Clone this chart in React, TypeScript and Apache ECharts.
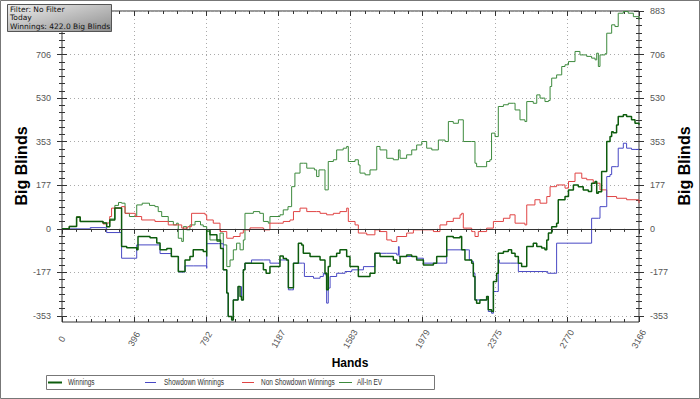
import React, { useEffect, useRef } from "react";
import * as echarts from "echarts";

// [hand, big blinds]
const winnings: [number, number][] = [
  [0, 0], [40, 10], [80, 47], [100, 30], [150, 30], [225, 24], [245, 9], [262, 36], [290, 85], [327, 85],
  [327, -72], [355, -77], [410, -85], [417, -31], [483, -36], [520, -57], [538, -85], [575, -80], [600, -112],
  [638, -173], [666, -173], [675, -126], [702, -112], [720, -85], [775, -92], [794, -112], [794, -4], [812, -24],
  [850, -45], [870, -80], [885, -166], [904, -260], [912, -355], [931, -369], [940, -288], [955, -288], [966, -234],
  [977, -274], [985, -288], [995, -166], [1004, -139], [1068, -139], [1105, -166], [1120, -180], [1141, -153],
  [1196, -110], [1214, -120], [1232, -126], [1242, -239], [1260, -239], [1270, -139], [1297, -58], [1315, -65],
  [1324, -99], [1361, -112], [1416, -126], [1434, -126], [1443, -180], [1452, -247], [1461, -153], [1471, -112],
  [1507, -99], [1525, -85], [1553, -85], [1562, -112], [1580, -153], [1608, -153], [1626, -193], [1672, -193],
  [1690, -180], [1717, -99], [1745, -112], [1782, -112], [1818, -126], [1837, -139], [1855, -112], [1891, -106],
  [1919, -112], [1946, -126], [1983, -146], [2038, -139], [2056, -112], [2092, -112], [2111, -31], [2147, -36],
  [2184, -31], [2193, -85], [2211, -126], [2248, -139], [2257, -193], [2266, -288], [2275, -301], [2293, -288],
  [2330, -274], [2339, -328], [2357, -335], [2367, -213], [2376, -213], [2385, -180], [2394, -99], [2422, -92],
  [2449, -85], [2467, -99], [2486, -112], [2504, -139], [2522, -153], [2540, -153], [2550, -72], [2586, -58],
  [2605, -72], [2632, -78], [2650, -85], [2660, -45], [2669, -17], [2687, 9], [2714, 23], [2723, 118], [2760, 131],
  [2779, 158], [2806, 178], [2833, 171], [2860, 158], [2888, 151], [2906, 185], [2925, 192], [2934, 144],
  [2943, 150], [2961, 232], [2980, 232], [2989, 354], [3007, 374], [3016, 394], [3025, 390], [3043, 421],
  [3052, 455], [3080, 462], [3098, 455], [3125, 442], [3144, 428], [3166, 422],
];

const showdown: [number, number][] = [
  [0, 0], [150, 0], [155, 5], [240, 5], [245, -15], [327, -15], [327, -119], [410, -119], [410, -65], [538, -65],
  [538, -100], [600, -112], [640, -175], [666, -175], [675, -150], [720, -150], [794, -160], [794, -60], [860, -60],
  [885, -166], [904, -260], [912, -355], [931, -369], [940, -288], [966, -234], [985, -288], [995, -166],
  [1004, -139], [1040, -126], [1105, -126], [1141, -139], [1196, -126], [1232, -126], [1242, -247], [1260, -247],
  [1270, -139], [1320, -139], [1330, -193], [1380, -200], [1416, -193], [1434, -180], [1443, -186], [1452, -301],
  [1461, -240], [1471, -193], [1507, -180], [1553, -173], [1590, -166], [1654, -153], [1690, -153], [1717, -99],
  [1782, -99], [1837, -106], [1846, -72], [1850, -112], [1946, -119], [1983, -139], [2038, -139], [2092, -139],
  [2111, -85], [2230, -85], [2235, -126], [2248, -132], [2257, -180], [2266, -288], [2293, -288], [2330, -274],
  [2339, -335], [2357, -342], [2367, -254], [2385, -254], [2394, -126], [2400, -139], [2459, -139], [2495, -139],
  [2504, -173], [2660, -173], [2665, -180], [2710, -180], [2714, -58], [2897, -58], [2906, 43], [2943, 43],
  [2952, 90], [2980, 90], [2989, 212], [3007, 220], [3016, 252], [3043, 252], [3052, 327], [3080, 347],
  [3098, 327], [3125, 322], [3166, 320],
];

const nonShowdown: [number, number][] = [
  [0, 0], [40, 10], [80, 47], [100, 30], [150, 30], [225, 20], [245, 24], [262, 50], [272, 84], [327, 90],
  [346, 63], [402, 50], [437, 36], [510, 30], [583, 16], [657, 3], [690, 9], [711, 63], [785, 57], [794, 36],
  [830, 23], [867, -11], [904, -38], [940, -31], [977, -17], [995, -4], [1032, 4], [1105, -4], [1132, -4],
  [1141, 23], [1214, 30], [1251, 36], [1270, 70], [1306, 84], [1343, 70], [1397, 70], [1416, 63], [1452, 57],
  [1489, 63], [1525, 70], [1562, 84], [1571, 30], [1608, 16], [1626, -17], [1672, -24], [1717, -4], [1745, -11],
  [1782, -45], [1809, -51], [1837, -31], [1891, -17], [1928, -4], [2010, -4], [2038, -11], [2074, 16], [2111, 30],
  [2147, 43], [2184, 57], [2193, 63], [2202, 3], [2248, -11], [2257, -11], [2266, -31], [2284, -11], [2330, 3],
  [2367, 30], [2422, 43], [2458, 57], [2486, 23], [2540, 16], [2550, 97], [2595, 118], [2623, 104], [2660, 131],
  [2678, 171], [2714, 178], [2760, 165], [2779, 192], [2815, 226], [2852, 205], [2879, 199], [2915, 185],
  [2952, 158], [2989, 131], [3043, 124], [3098, 118], [3166, 104],
];

const allInEv: [number, number][] = [
  [0, 0], [40, 10], [80, 50], [100, 30], [150, 30], [225, 24], [245, 9], [262, 40], [290, 95], [310, 107],
  [327, 104], [346, 63], [370, 50], [400, 50], [410, 97], [440, 104], [480, 95], [510, 90], [528, 70], [547, 50],
  [583, 30], [611, 16], [629, 23], [638, -38], [657, -51], [666, 9], [684, -4], [702, 16], [730, 30], [760, 16],
  [775, 9], [794, -11], [812, -45], [850, -51], [867, -17], [885, -65], [904, -153], [922, -126], [940, -85],
  [958, -58], [977, -85], [995, -45], [1004, 63], [1050, 70], [1085, 63], [1105, 30], [1132, 23], [1141, 50],
  [1196, 57], [1214, 77], [1240, 90], [1260, 171], [1278, 226], [1306, 266], [1325, 266], [1343, 246],
  [1385, 239], [1397, 212], [1410, 239], [1434, 239], [1443, 158], [1455, 158], [1461, 273], [1489, 280],
  [1507, 320], [1543, 327], [1562, 334], [1571, 273], [1608, 280], [1626, 259], [1635, 226], [1663, 219],
  [1690, 239], [1717, 239], [1727, 334], [1745, 320], [1782, 286], [1818, 280], [1846, 320], [1855, 286],
  [1891, 300], [1919, 320], [1946, 340], [1974, 354], [2001, 327], [2029, 320], [2065, 360], [2102, 354],
  [2120, 435], [2147, 428], [2175, 442], [2184, 442], [2202, 354], [2248, 354], [2266, 266], [2275, 252],
  [2330, 273], [2348, 280], [2357, 388], [2376, 374], [2394, 496], [2422, 503], [2449, 509], [2477, 509],
  [2486, 482], [2513, 442], [2540, 435], [2550, 516], [2586, 509], [2605, 543], [2623, 530], [2650, 516],
  [2669, 520], [2678, 577], [2687, 611], [2714, 624], [2742, 658], [2760, 665], [2779, 678], [2815, 719],
  [2842, 705], [2879, 699], [2906, 692], [2925, 685], [2934, 712], [2943, 658], [2952, 705], [2980, 710],
  [2989, 793], [3016, 827], [3034, 820], [3052, 874], [3080, 881], [3107, 874], [3135, 860], [3166, 847],
];

const seriesNames = ["Winnings", "Showdown Winnings", "Non Showdown Winnings", "All-In EV"];
const infoLines = ["Filter: No Filter", "Today", "Winnings: 422.0 Big Blinds"];
const xMax = 3166;
const xInterval = 395.75;
const yMax = 883;
const yInterval = 176.6;
const yTickMin = -353.2;
const yDataMin = -377.5;

const C_WIN = "#0d5c0d";
const C_SD = "#4848c4";
const C_NSD = "#e04444";
const C_EV = "#3d8a3d";

export default function App() {
  const ref = useRef<HTMLDivElement>(null);
  useEffect(() => {
    document.body.style.margin = "0";
    const chart = echarts.init(ref.current!, null, { renderer: "svg" });
    const gridData = { left: 62, right: 61, top: 11, bottom: 77, outerBoundsMode: "none", containLabel: false };
    const gridTicks = { left: 62, right: 61, top: 11, bottom: 83, outerBoundsMode: "none", containLabel: false };
    const labelFont = { color: "#555", fontSize: 9, fontFamily: "Arial, 'Liberation Sans', sans-serif" };
    const xBase = { type: "value", min: 0, max: xMax, interval: xInterval };
    const yBase = { type: "value", min: yTickMin, max: yMax, interval: yInterval };
    const tickStyle = { color: "#333", width: 1 };
    const hiddenX = (g: number) => ({ type: "value", gridIndex: g, min: 0, max: 1, show: false });
    const hiddenY = (g: number) => ({ type: "value", gridIndex: g, min: 0, max: 1, show: false });
    const fmt = (v: number) => String(Math.round(v));

    const option: any = {
      animation: false,
      backgroundColor: "#fff",
      grid: [
        { ...gridData, show: true, borderColor: "#333", borderWidth: 1, backgroundColor: "transparent" },
        { ...gridTicks },
        { ...gridTicks },
        { ...gridData },
      ],
      xAxis: [
        {
          ...xBase, gridIndex: 0, position: "bottom",
          axisLine: { show: false },
          axisTick: { show: true, inside: false, length: 5, lineStyle: tickStyle },
          minorTick: { show: true, splitNumber: 5, length: 3, lineStyle: tickStyle },
          splitLine: { show: true, lineStyle: { color: "#aaa", type: [1, 3], width: 1 } },
          axisLabel: {
            ...labelFont, rotate: 60, margin: 17, align: "center", verticalAlign: "middle",
            showMinLabel: true, showMaxLabel: true, formatter: fmt,
          },
        },
        {
          ...xBase, gridIndex: 0, position: "top",
          axisLine: { show: false },
          axisTick: { show: true, inside: true, length: 5, lineStyle: tickStyle },
          minorTick: { show: true, splitNumber: 5, length: 3, lineStyle: tickStyle },
          splitLine: { show: false }, axisLabel: { show: false },
        },
        hiddenX(1),
        hiddenX(2),
        {
          ...xBase, gridIndex: 3, position: "bottom",
          axisLine: { show: false },
          axisTick: { show: true, inside: true, length: 5, lineStyle: tickStyle },
          minorTick: { show: true, splitNumber: 5, length: 3, lineStyle: tickStyle },
          splitLine: { show: false }, axisLabel: { show: false },
        },
      ],
      yAxis: [
        { type: "value", gridIndex: 0, min: yDataMin, max: yMax, show: false },
        {
          ...yBase, gridIndex: 1, position: "left",
          axisLine: { show: false },
          axisTick: { show: true, inside: false, length: 5, lineStyle: tickStyle },
          minorTick: { show: true, splitNumber: 6, length: 3, lineStyle: tickStyle },
          splitLine: { show: true, lineStyle: { color: "#aaa", type: [1, 3], width: 1 } },
          axisLabel: { ...labelFont, margin: 11, showMinLabel: true, showMaxLabel: false, formatter: fmt },
        },
        {
          ...yBase, gridIndex: 1, position: "right",
          axisLine: { show: false },
          axisTick: { show: true, inside: false, length: 5, lineStyle: tickStyle },
          minorTick: { show: true, splitNumber: 6, length: 3, lineStyle: tickStyle },
          splitLine: { show: false },
          axisLabel: { ...labelFont, margin: 11, showMinLabel: true, showMaxLabel: true, formatter: fmt },
        },
        {
          ...yBase, gridIndex: 2, position: "left",
          axisLine: { show: false },
          axisTick: { show: true, inside: true, length: 5, lineStyle: tickStyle },
          minorTick: { show: true, splitNumber: 6, length: 3, lineStyle: tickStyle },
          splitLine: { show: false }, axisLabel: { show: false },
        },
        {
          ...yBase, gridIndex: 2, position: "right",
          axisLine: { show: false },
          axisTick: { show: true, inside: true, length: 5, lineStyle: tickStyle },
          minorTick: { show: true, splitNumber: 6, length: 3, lineStyle: tickStyle },
          splitLine: { show: false }, axisLabel: { show: false },
        },
        hiddenY(3),
      ],
      series: [
        {
          name: seriesNames[3], type: "line", step: "end", xAxisIndex: 0, yAxisIndex: 0, data: allInEv,
          showSymbol: false, symbol: "none", lineStyle: { color: C_EV, width: 1 }, itemStyle: { color: C_EV },
          markLine: {
            silent: true, symbol: ["none", "none"], label: { show: false },
            lineStyle: { color: "#333", width: 1, type: "solid" },
            data: [{ yAxis: 0 }],
          },
        },
        {
          name: seriesNames[2], type: "line", step: "end", xAxisIndex: 0, yAxisIndex: 0, data: nonShowdown,
          showSymbol: false, symbol: "none", lineStyle: { color: C_NSD, width: 1 }, itemStyle: { color: C_NSD },
        },
        {
          name: seriesNames[1], type: "line", step: "end", xAxisIndex: 0, yAxisIndex: 0, data: showdown,
          showSymbol: false, symbol: "none", lineStyle: { color: C_SD, width: 1 }, itemStyle: { color: C_SD },
        },
        {
          name: seriesNames[0], type: "line", step: "end", xAxisIndex: 0, yAxisIndex: 0, data: winnings,
          showSymbol: false, symbol: "none", lineStyle: { color: C_WIN, width: 1.5 }, itemStyle: { color: C_WIN },
        },
      ],
      graphic: [
        { type: "rect", shape: { x: 0.5, y: 0.5, width: 699, height: 398 }, style: { fill: "none", stroke: "#777", lineWidth: 1 }, z: 100 },
        {
          type: "rect", shape: { x: 7.5, y: 4.5, width: 104, height: 27 },
          style: {
            fill: new echarts.graphic.LinearGradient(0, 0, 1, 1, [
              { offset: 0, color: "#eeeeee" },
              { offset: 1, color: "#8e8e8e" },
            ]),
            stroke: "#555", lineWidth: 1,
          },
          z: 100,
        },
        ...infoLines.map((t, i) => ({
          type: "text", x: 10, y: 9 + i * 8.5, z: 101,
          style: { text: t, fill: "#111", font: "7.5px 'DejaVu Sans', Verdana, sans-serif", align: "left", verticalAlign: "middle" },
        })),
        {
          type: "text", x: 21, y: 166, rotation: Math.PI / 2, z: 100,
          style: { text: "Big Blinds", fill: "#000", font: "bold 16px Arial, 'Liberation Sans', sans-serif", align: "center", verticalAlign: "middle" },
        },
        {
          type: "text", x: 684, y: 166, rotation: Math.PI / 2, z: 100,
          style: { text: "Big Blinds", fill: "#000", font: "bold 16px Arial, 'Liberation Sans', sans-serif", align: "center", verticalAlign: "middle" },
        },
        {
          type: "text", x: 350, y: 363, z: 100,
          style: { text: "Hands", fill: "#000", font: "bold 12px Arial, 'Liberation Sans', sans-serif", align: "center", verticalAlign: "middle" },
        },
        { type: "rect", shape: { x: 46.5, y: 375.5, width: 388, height: 14 }, style: { fill: "#fff", stroke: "#777", lineWidth: 1 }, z: 100 },
        ...[
          { x1: 48, x2: 62, tx: 68, c: C_WIN, w: 2, name: seriesNames[0] },
          { x1: 145, x2: 156, tx: 164, c: C_SD, w: 1, name: seriesNames[1] },
          { x1: 242, x2: 254, tx: 261, c: C_NSD, w: 1, name: seriesNames[2] },
          { x1: 339, x2: 352, tx: 357, c: C_EV, w: 1, name: seriesNames[3] },
        ].flatMap((it) => [
          { type: "line", shape: { x1: it.x1, y1: 382.5, x2: it.x2, y2: 382.5 }, style: { stroke: it.c, lineWidth: it.w }, z: 101 },
          {
            type: "text", x: it.tx, y: 382.5, scaleX: 0.72, z: 101,
            style: { text: it.name, fill: "#333", font: "9px Arial, 'Liberation Sans', sans-serif", align: "left", verticalAlign: "middle" },
          },
        ]),
      ],
    };
    chart.setOption(option);
    return () => chart.dispose();
  }, []);
  return <div ref={ref} style={{ width: 700, height: 399 }} />;
}
